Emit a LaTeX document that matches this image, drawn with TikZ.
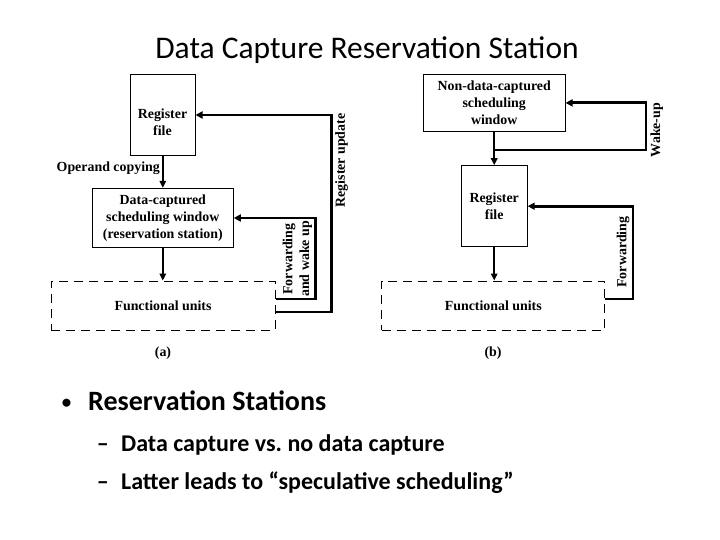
\documentclass[tikz,border=0pt]{standalone}
\usepackage{fontspec}
\setmainfont{Liberation Serif}
\newfontfamily\slidefont{Carlito}
\usetikzlibrary{arrows.meta}
\frenchspacing
\tikzset{
  diag/.style={font=\fontsize{13.9}{16.7}\selectfont\bfseries, align=center},
  blk/.style={diag, draw, line width=1pt, inner sep=0pt},
  fubox/.style={diag, draw, line width=1pt, dash pattern=on 9pt off 6pt, inner sep=0pt},
  dn/.style={line width=1.6pt, -{Triangle[length=7pt,width=6.5pt]}},
  fb/.style={line width=2.8pt, line join=miter, -{Triangle[length=7pt,width=7pt]}},
  rot/.style={diag, rotate=90},
  slide/.style={font=\slidefont\bfseries\fontsize{24}{28}\selectfont, anchor=base west, inner sep=0pt},
}
\begin{document}
\begin{tikzpicture}[x=1pt,y=-1pt]
\useasboundingbox (0,0) rectangle (720,540);
% title
\node[font=\slidefont\fontsize{31.5}{36}\selectfont, anchor=base] (title) at (367,58.3) {Data Capture Reservation Station};

% ---------- (a) ----------
\node[blk, minimum width=65pt, minimum height=81.7pt] (rfA) at (162.5,115) {};
\node[diag] (rfAt) at (162.5,122.5) {Register\\file};
\node[blk, minimum width=141pt, minimum height=59.4pt] (dcA) at (162.8,218) {Data-captured\\scheduling window\\(reservation station)};
\node[fubox, minimum width=224pt, minimum height=49pt] (fuA) at (163,305.5) {Functional units};
\draw[dn] (rfA.south -| dcA.north) -- (dcA.north);
\node[diag, anchor=east, inner sep=0pt] (opc) at (160,168) {Operand copying};
\draw[dn] (dcA.south) -- (fuA.north -| dcA.south);
\draw[fb] ([yshift=6.5pt]fuA.east) -- ++(40,0) |- (dcA.east);
\draw[fb] ([yshift=-6.5pt]fuA.east) -- ++(56,0) |- (rfA.east);
\node[rot] (fwA) at (297.5,259) {Forwarding\\and wake up};
\node[rot] (ruA) at (341.7,160.5) {Register update};
\node[diag] (capA) at (163,353) {(a)};

% ---------- (b) ----------
\node[blk, minimum width=141.7pt, minimum height=57.7pt] (ndB) at (494.2,102.9) {Non-data-captured\\scheduling\\window};
\node[blk, minimum width=66pt, minimum height=81pt] (rfB) at (494.2,206.2) {Register\\file};
\node[fubox, minimum width=223.3pt, minimum height=49pt] (fuB) at (493.3,305.5) {Functional units};
\draw[dn] (ndB.south) -- (rfB.north);
\draw[dn] (rfB.south) -- (fuB.north -| rfB.south);
\coordinate (wj) at (ndB.south |- 0,150);
\draw[fb] (wj) -- (646,150) |- (ndB.east);
\draw[fb] ([yshift=6.5pt]fuB.east) -- ++(27.5,0) |- (rfB.east);
\node[rot] (wuB) at (656.7,130) {Wake-up};
\node[rot] (fwB) at (623,252) {Forwarding};
\node[diag] (capB) at (493,353) {(b)};

% ---------- bullets ----------
\node[font=\slidefont\bfseries\fontsize{19}{22}\selectfont, anchor=base, inner sep=0pt] (b1) at (66.5,408) {•};
\node[slide, font=\slidefont\bfseries\fontsize{28}{32}\selectfont] (t1) at (88,410.5) {Reservation Stations};
\node[slide] (b2) at (96.7,451) {–};
\node[slide] (t2) at (121,451) {Data capture vs. no data capture};
\node[slide] (b3) at (96.7,489.5) {–};
\node[slide] (t3) at (121,489.5) {Latter leads to “speculative scheduling”};
\end{tikzpicture}
\end{document}
